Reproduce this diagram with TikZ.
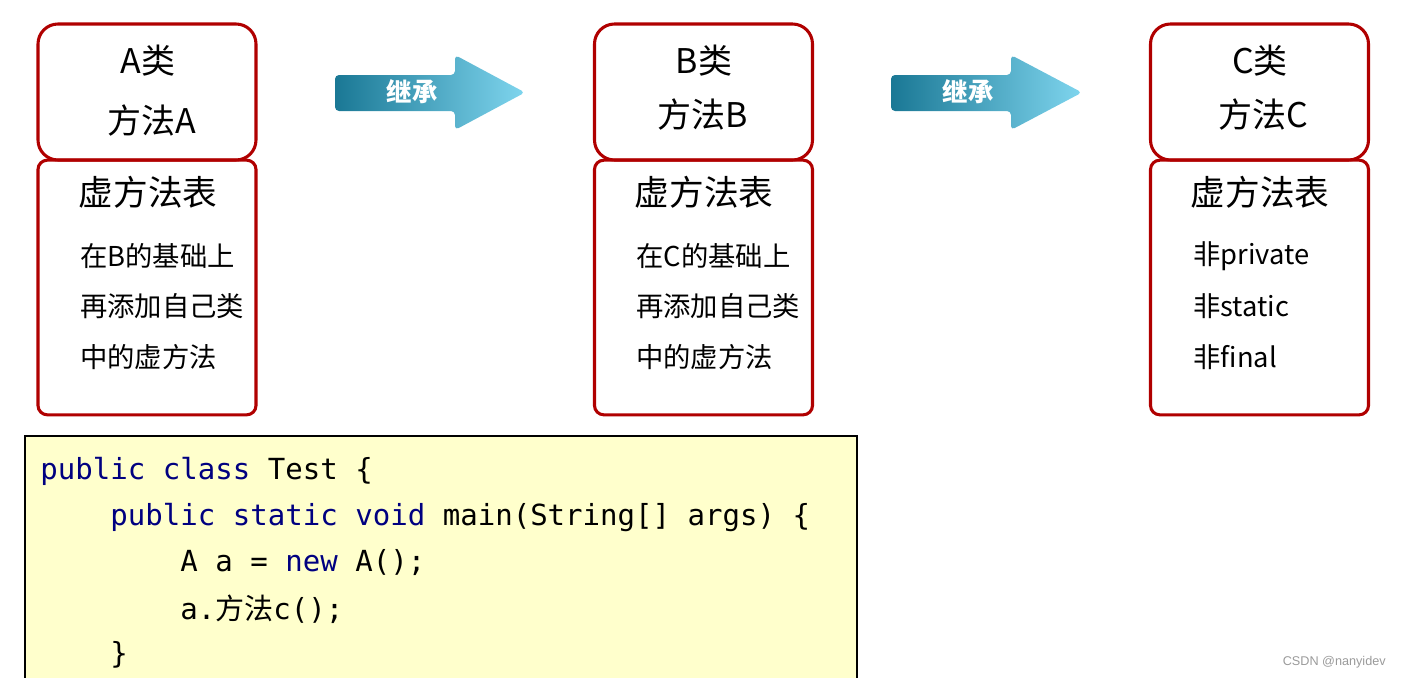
\documentclass[tikz,border=0pt]{standalone}
\usepackage{fontspec}
\setmainfont{Noto Sans CJK SC}
\setmonofont{DejaVu Sans Mono}
\newfontfamily\cjk{Noto Sans CJK SC}
\newfontfamily\wmfont{Liberation Sans}
\usetikzlibrary{positioning}
\definecolor{boxred}{HTML}{B00000}
\definecolor{kw}{HTML}{000080}
\definecolor{codebg}{HTML}{FFFFCC}
\definecolor{arrdark}{HTML}{1A7895}
\definecolor{arrlight}{HTML}{7FD5EE}
\definecolor{wmgray}{HTML}{9A9A9A}
\begin{document}
\begin{tikzpicture}[x=0.75pt,y=-0.75pt,
  topbox/.style={draw=boxred, line width=2.3pt, rounded corners=15pt, minimum width=163.5pt, minimum height=102pt, inner sep=0pt},
  tablebox/.style={draw=boxred, line width=2.3pt, rounded corners=7pt, minimum width=163.5pt, minimum height=191pt, inner sep=0pt},
  titletext/.style={font=\fontsize{25.5pt}{28pt}\selectfont, inner sep=0pt},
  headtext/.style={font=\fontsize{26pt}{28pt}\selectfont, inner sep=0pt},
  itemtext/.style={font=\fontsize{20.5pt}{24pt}\selectfont, inner sep=0pt, anchor=west},
  codetext/.style={font=\ttfamily\fontsize{21.8pt}{26pt}\selectfont, inner sep=0pt, anchor=west},
  inherit/.style={font=\fontsize{19pt}{22pt}\selectfont\bfseries, text=white, inner sep=0pt},
  bigarrow/.style={left color=arrdark, right color=arrlight, rounded corners=3pt}
]
\useasboundingbox (0,0) rectangle (1403,678);

% code box
\fill[codebg] (25,436) rectangle (857,678);
\draw[line width=1.2pt] (25,680) -- (25,436) -- (857,436) -- (857,680);

% class boxes
\node[topbox] (Atop) at (147,92) {};
\node[tablebox] (Atab) at (147,287.5) {};
\node[topbox] (Btop) at (703.5,92) {};
\node[tablebox] (Btab) at (703.5,287.5) {};
\node[topbox] (Ctop) at (1259.5,92) {};
\node[tablebox] (Ctab) at (1259.5,287.5) {};

% A texts
\node[titletext] (Aname) at (148,61) {A类};
\node[titletext] (Ameth) at (152,121) {方法A};
\node[headtext] (Ahead) at (148,192) {虚方法表};
\node[itemtext] (A1) at (80,256) {在B的基础上};
\node[itemtext] (A2) at (80,306) {再添加自己类};
\node[itemtext] (A3) at (80,357) {中的虚方法};

% B texts
\node[titletext] (Bname) at (704,61) {B类};
\node[titletext] (Bmeth) at (703,115) {方法B};
\node[headtext] (Bhead) at (704,192) {虚方法表};
\node[itemtext] (B1) at (636,256) {在C的基础上};
\node[itemtext] (B2) at (636,306) {再添加自己类};
\node[itemtext] (B3) at (636,357) {中的虚方法};

% C texts
\node[titletext] (Cname) at (1260,61) {C类};
\node[titletext] (Cmeth) at (1263,115) {方法C};
\node[headtext] (Chead) at (1260,192) {虚方法表};
\node[itemtext] (C1) at (1193,256) {非private};
\node[itemtext] (C2) at (1193,306) {非static};
\node[itemtext] (C3) at (1193,357) {非final};

% inheritance arrows
\shade[bigarrow] (335,75) -- (455,75) -- (455,55) -- (525,92.5) -- (455,130) -- (455,111) -- (335,111) -- cycle;
\node[inherit] (inh1) at (412,92) {继承};
\shade[bigarrow] (891,75) -- (1011,75) -- (1011,55) -- (1082,92.5) -- (1011,130) -- (1011,111) -- (891,111) -- cycle;
\node[inherit] (inh2) at (968,92) {继承};

% code
\node[codetext] (L1) at (40,471) {\textcolor{kw}{public} \textcolor{kw}{class} Test \{};
\node[codetext] (L2) at (110,517) {\textcolor{kw}{public} \textcolor{kw}{static} \textcolor{kw}{void} main(String[] args) \{};
\node[codetext] (L3) at (180,563) {A a = \textcolor{kw}{new} A();};
\node[codetext] (L4) at (180,609) {a.{\cjk 方法}c();};
\node[codetext] (L5) at (110,655) {\}};

% watermark
\node[font=\wmfont\fontsize{9.5pt}{11pt}\selectfont, text=wmgray, anchor=east, inner sep=0pt] (wm) at (1386,662) {CSDN @nanyidev};
\end{tikzpicture}
\end{document}
